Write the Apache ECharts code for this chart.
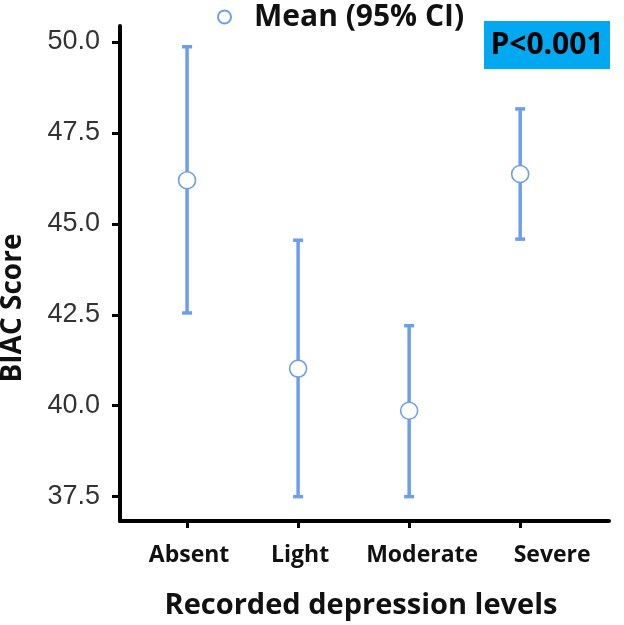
<!DOCTYPE html>
<html>
<head>
<meta charset="utf-8">
<script src="https://cdn.jsdelivr.net/npm/echarts@6/dist/echarts.min.js"></script>
<style>
html,body{margin:0;padding:0;background:#fff;}
#chart{width:624px;height:625px;}
</style>
</head>
<body>
<div id="chart"></div>
<script>
// ---- data ----
var categories = ['Absent', 'Light', 'Moderate', 'Severe'];
var meanValues = [46.2, 41.02, 39.86, 46.37];
var lowerCI = [42.55, 37.5, 37.5, 44.58];
var upperCI = [49.87, 44.55, 42.2, 48.16];
var yTicks = [37.5, 40.0, 42.5, 45.0, 47.5, 50.0];
var seriesName = 'Mean (95% CI)';
var pLabel = 'P<0.001';

var blue = '#6d9eeb';
var catIdx = categories.map(function (c, i) { return i; });
var meanData = meanValues.map(function (v, i) { return [i, v]; });
var ciData = categories.map(function (c, i) { return [i, lowerCI[i], upperCI[i]]; });

// label horizontal nudges (style only), as in the reference
var labelShift = [4, 4, 26, 64];
var boldFont = '"Open Sans", "Noto Sans", sans-serif';
var rich = {};
labelShift.forEach(function (s, i) {
  rich['c' + i] = {fontFamily: boldFont, fontWeight: 'bold', fontSize: 23, color: '#111', padding: [0, 0, 0, s]};
});

var chart = echarts.init(document.getElementById('chart'), null, {renderer: 'canvas'});

chart.setOption({
  animation: false,
  backgroundColor: '#fff',
  grid: {left: 120, right: 15, top: 26, bottom: 102, containLabel: false},
  legend: {
    left: 212, top: -3,
    itemWidth: 13, itemHeight: 13,
    data: [{name: seriesName, icon: 'circle'}],
    textStyle: {fontFamily: boldFont, fontWeight: 'bold', fontSize: 30, color: '#111', padding: [0, 0, 0, 18]}
  },
  xAxis: {
    type: 'value', min: -0.604, max: 3.8,
    splitLine: {show: false},
    axisLine: {show: true, onZero: false, lineStyle: {color: '#000', width: 4}},
    axisTick: {show: true, customValues: catIdx, length: 7, lineStyle: {color: '#000', width: 3}},
    axisLabel: {
      customValues: catIdx, margin: 23,
      formatter: function (v) { var i = Math.round(v); return '{c' + i + '|' + categories[i] + '}'; },
      rich: rich,
      fontFamily: boldFont, fontWeight: 'bold', fontSize: 23, color: '#111'
    },
    name: 'Recorded depression levels', nameLocation: 'middle', nameGap: 70,
    nameTextStyle: {fontFamily: boldFont, fontWeight: 'bold', fontSize: 29, color: '#111', padding: [0, 7, 0, 0]}
  },
  yAxis: {
    type: 'value', min: 36.83, max: 50.44,
    splitLine: {show: false},
    axisLine: {show: true, onZero: false, lineStyle: {color: '#000', width: 4}},
    axisTick: {show: true, customValues: yTicks, length: 8, lineStyle: {color: '#000', width: 3}},
    axisLabel: {
      customValues: yTicks, margin: 20,
      formatter: function (v) { return v.toFixed(1); },
      fontFamily: '"Liberation Sans", Arial, sans-serif', fontSize: 27, color: '#333'
    }
  },
  graphic: [
    {
      type: 'text', x: 13, y: 308, rotation: Math.PI / 2,
      style: {text: 'BIAC Score', fontFamily: boldFont, fontWeight: 'bold', fontSize: 28, fill: '#111',
              align: 'center', verticalAlign: 'middle'}
    },
    {
      type: 'rect', shape: {x: 484, y: 21, width: 126, height: 48},
      style: {fill: '#03a9f0'}
    },
    {
      type: 'text', x: 547, y: 45,
      style: {text: pLabel, fontFamily: boldFont, fontWeight: 'bold', fontSize: 30, fill: '#000',
              align: 'center', verticalAlign: 'middle'}
    }
  ],
  series: [
    {
      type: 'custom',
      name: 'ci',
      silent: true,
      data: ciData,
      encode: {x: 0, y: [1, 2]},
      renderItem: function (params, api) {
        var x = api.value(0);
        var lo = api.coord([x, api.value(1)]);
        var hi = api.coord([x, api.value(2)]);
        var hw = 5;
        var st = {stroke: blue, lineWidth: 3.5};
        return {
          type: 'group',
          children: [
            {type: 'line', shape: {x1: lo[0], y1: lo[1], x2: hi[0], y2: hi[1]}, style: st},
            {type: 'line', shape: {x1: lo[0] - hw, y1: lo[1], x2: lo[0] + hw, y2: lo[1]}, style: st},
            {type: 'line', shape: {x1: hi[0] - hw, y1: hi[1], x2: hi[0] + hw, y2: hi[1]}, style: st}
          ]
        };
      },
      z: 2
    },
    {
      type: 'scatter',
      name: seriesName,
      data: meanData,
      symbol: 'circle',
      symbolSize: 17,
      itemStyle: {color: '#fff', borderColor: blue, borderWidth: 1.6, opacity: 1},
      z: 3
    }
  ]
});
</script>
</body>
</html>
